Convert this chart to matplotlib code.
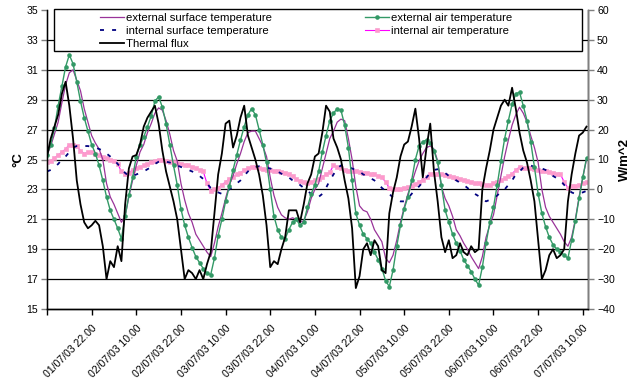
import numpy as np
import pandas as pd
import matplotlib
matplotlib.use("Agg")
import matplotlib.pyplot as plt
from matplotlib.patches import Rectangle

plt.rcParams["font.family"] = ["Liberation Sans", "DejaVu Sans"]

# Hourly readings starting 01/07/03 10:00
start_time = "2003-07-01 10:00"

ext_surface_temp = [
    25.3, 25.9, 26.7, 27.5, 28.8, 30.0, 30.8, 31.0, 30.3, 29.6, 28.4, 27.5,
    26.6, 26.1, 25.7, 25.0, 23.4, 22.5, 22.0, 21.4, 20.8, 21.2, 22.5, 23.6,
    24.6, 25.5, 26.0, 26.8, 27.4, 28.1, 28.45, 28.3, 27.6, 26.7, 25.6, 24.9,
    23.4, 22.3, 21.4, 20.8, 20.0, 19.6, 19.2, 18.8, 18.5, 19.4, 20.5, 21.4,
    22.4, 23.3, 23.9, 24.7, 25.4, 26.2, 26.8, 26.9, 26.9, 26.4, 25.9, 25.2,
    23.8, 22.6, 21.8, 21.3, 21.1, 21.0, 21.1, 21.0, 20.8, 20.9, 21.5, 22.4,
    23.0, 23.4, 24.4, 25.4, 26.4, 26.9, 27.5, 27.7, 27.6, 26.4, 25.0, 23.2,
    21.9, 21.6, 21.5, 21.0, 20.3, 19.9, 19.5, 18.4, 18.1, 18.6, 19.6, 20.8,
    21.8, 22.7, 23.4, 24.2, 24.9, 25.4, 25.8, 25.9, 25.7, 24.9, 23.2, 22.4,
    21.9, 21.2, 20.3, 19.9, 19.4, 19.0, 18.5, 18.1, 17.7, 18.5, 19.8, 20.6,
    21.3, 22.6, 23.9, 25.2, 26.3, 27.3, 28.0, 28.5, 28.1, 27.5, 26.6, 25.8,
    24.8, 23.0, 21.8, 21.2, 20.8, 20.4, 20.0, 19.5, 19.2, 19.8, 21.0, 22.5,
    23.8, 25.0,
]

int_surface_temp = [
    24.2, 24.3, 24.5, 24.7, 25.0, 25.2, 25.5, 25.8, 25.9, 25.9, 25.9, 25.9,
    25.85, 25.8, 25.7, 25.6, 25.4, 25.2, 25.0, 24.7, 24.4, 24.1, 23.9, 23.9,
    24.0, 24.1, 24.2, 24.35, 24.5, 24.7, 24.85, 24.9, 24.85, 24.8, 24.7, 24.6,
    24.5, 24.4, 24.3, 24.2, 24.1, 23.9, 23.7, 23.4, 23.1, 22.9, 22.8, 22.7,
    22.8, 23.0, 23.2, 23.4, 23.6, 23.9, 24.2, 24.4, 24.5, 24.55, 24.5, 24.45,
    24.4, 24.3, 24.2, 24.05, 23.9, 23.8, 23.6, 23.5, 23.3, 23.1, 22.9, 22.7,
    22.5, 22.5, 22.7, 23.1, 23.6, 24.0, 24.4, 24.6, 24.6, 24.5, 24.4, 24.3,
    24.2, 24.0, 23.9, 23.75, 23.6, 23.4, 23.1, 22.9, 22.7, 22.45, 22.3, 22.2,
    22.2, 22.4, 22.7, 23.0, 23.2, 23.5, 23.8, 24.1, 24.3, 24.35, 24.3, 24.1,
    23.9, 23.8, 23.6, 23.45, 23.3, 23.1, 22.9, 22.7, 22.55, 22.35, 22.2, 22.3,
    22.4, 22.6, 22.8, 23.0, 23.3, 23.6, 24.0, 24.2, 24.45, 24.55, 24.6, 24.5,
    24.45, 24.4, 24.3, 24.1, 23.9, 23.75, 23.6, 23.3, 23.0, 22.8, 22.7, 22.75,
    22.8, 22.9,
]

thermal_flux = [
    11, 17, 21, 25, 32, 36, 28, 17, 3, -5, -11, -13,
    -12, -10.5, -12, -19, -30, -24, -26, -19, -24, -5, 7, 11,
    11.5, 15, 21, 24, 26, 28, 22, 13, 6, 1, -4, -10,
    -20, -30, -27, -28, -30, -27, -30, -25, -21, -8, 5, 12,
    22, 23, 14, 18, 24, 28, 18, 14, 10, 5, -2, -12,
    -26, -24, -25, -20, -16, -7, -7, -7, -11, -5, 2, 5,
    11, 12, 19, 28, 26, 17, 14, 10, 3, -3, -13, -33,
    -29, -20, -18, -22, -17, -19, -27, -28, -8, -1, 4, 11,
    15, 16, 21, 27, 17, 4, 14, 22, 6, -4, -16, -21,
    -17, -23, -22, -18, -21, -22, -19, -21, -20, 0, 7, 13,
    20, 24, 28, 30, 28, 34, 27, 19, 13, 9, 3, -4,
    -17, -30, -27, -22, -20, -23, -22, -20, -4, 5, 12, 18,
    19, 21,
]

ext_air_temp = [
    25.3, 26.0, 27.1, 28.6, 29.9, 31.2, 32.0, 31.4, 30.2, 28.9, 27.8, 26.9,
    26.0, 25.4, 24.6, 23.6, 22.5, 21.6, 21.0, 20.4, 19.7, 21.2, 22.6, 23.8,
    25.2, 26.0, 26.5, 27.2, 27.9, 28.9, 29.2, 28.5, 27.4, 26.0, 24.6, 23.3,
    21.7, 20.6, 19.8, 19.1, 18.5, 18.1, 17.7, 17.4, 17.3, 18.4, 19.9, 21.0,
    22.2, 23.2, 24.3, 25.3, 26.3, 27.2, 28.0, 28.4, 28.0, 27.0, 26.0, 24.8,
    23.0, 21.2, 20.3, 19.8, 19.7, 20.3, 20.8, 21.0, 20.6, 20.8, 21.8, 22.7,
    23.3, 24.2, 25.5, 26.6, 27.6, 28.1, 28.4, 28.3, 27.3, 25.8, 23.6, 21.4,
    20.6, 20.0, 19.7, 19.4, 18.8, 18.3, 17.7, 16.9, 16.5, 17.6, 19.2, 20.6,
    21.7, 22.5, 23.6, 25.0, 25.9, 26.2, 26.3, 26.1, 25.6, 24.8, 23.3, 21.6,
    20.8, 20.0, 19.4, 18.9, 18.3, 17.9, 17.5, 17.0, 16.6, 17.8, 19.4, 20.8,
    21.8, 23.3, 24.9, 26.4, 27.6, 28.7, 29.4, 29.5, 28.6, 27.6, 26.2, 24.5,
    22.7, 21.4, 20.5, 19.8, 19.3, 19.0, 18.8, 18.6, 18.4, 19.6, 20.9, 22.4,
    23.8, 25.1,
]

int_air_temp = [
    24.8, 24.9, 25.1, 25.3, 25.5, 25.7, 26.0, 26.0, 25.9, 25.6, 25.4, 25.5,
    25.5, 25.4, 25.3, 25.2, 25.1, 25.0, 24.9, 24.7, 24.2, 24.0, 24.1, 24.3,
    24.4, 24.5, 24.6, 24.7, 24.8, 24.9, 25.0, 25.0, 24.9, 24.8, 24.8, 24.75,
    24.7, 24.65, 24.6, 24.5, 24.45, 24.3, 24.2, 23.4, 22.9, 23.0, 23.1, 23.3,
    23.5, 23.7, 23.8, 24.0, 24.1, 24.3, 24.4, 24.5, 24.5, 24.4, 24.35, 24.3,
    24.3, 24.2, 24.2, 24.15, 24.1, 24.0, 23.9, 23.7, 23.55, 23.5, 23.45, 23.5,
    23.6, 23.7, 23.85, 24.0, 24.15, 24.6, 24.5, 24.4, 24.3, 24.25, 24.2, 24.2,
    24.15, 24.1, 24.1, 24.0, 24.0, 23.9, 23.8, 23.5, 23.1, 23.0, 23.0, 23.05,
    23.1, 23.15, 23.2, 23.35, 23.5, 23.65, 23.8, 24.0, 24.05, 24.0, 24.0, 23.95,
    23.9, 23.85, 23.75, 23.7, 23.6, 23.55, 23.5, 23.45, 23.4, 23.35, 23.3, 23.3,
    23.4, 23.5, 23.6, 23.75, 23.9, 24.05, 24.3, 24.5, 24.45, 24.4, 24.4, 24.35,
    24.3, 24.25, 24.2, 24.15, 24.1, 24.05, 24.0, 23.5, 23.1, 23.2, 23.25, 23.3,
    23.4, 23.5,
]

series_labels = [
    "external surface temperature",
    "internal surface temperature",
    "Thermal flux",
    "external air temperature",
    "internal air temperature",
]

temp_ticks = list(range(15, 36, 2))
flux_ticks = list(range(-40, 61, 10))

hours = np.arange(len(ext_air_temp))
times = pd.date_range(start_time, periods=len(hours), freq="h")
tick_hours = np.arange(0, len(hours), 12)
tick_labels = ["" if h == 0 else times[h].strftime("%d/%m/%y %H.%M") for h in tick_hours]

W, H = 639, 387
fig = plt.figure(figsize=(W / 100, H / 100), dpi=100)
fig.patch.set_facecolor("white")
ax = fig.add_axes([47 / W, 1 - 309 / H, 541 / W, 299 / H])
ax2 = ax.twinx()

# horizontal grid at the inner temperature ticks
ax.hlines(temp_ticks[1:-1], 0, 1, transform=ax.get_yaxis_transform(),
          colors="black", linewidth=0.9, zorder=0.5)

l_es, = ax.plot(hours, ext_surface_temp, color="#993399", lw=0.9, zorder=3,
                label=series_labels[0])
l_is, = ax.plot(hours, int_surface_temp, color="#000080", lw=1.3,
                linestyle=(0, (2.2, 4.5)), zorder=3, label=series_labels[1])
l_ea, = ax.plot(hours, ext_air_temp, color="#339966", lw=1.0, marker="o",
                markersize=3.3, markeredgewidth=0, zorder=4, label=series_labels[3])
l_ia, = ax.plot(hours, int_air_temp, color="#FF00FF", lw=0.8, marker="s",
                markersize=3.5, markerfacecolor="#FF99CC", markeredgecolor="#F7A3CF",
                markeredgewidth=0.5, zorder=2, label=series_labels[4])
l_tf, = ax2.plot(hours, thermal_flux, color="black", lw=1.3, zorder=3,
                 label=series_labels[2])

ax.set_xlim(0, 145.4)
ax.set_ylim(15, 35)
ax2.set_ylim(-40, 60)
ax.set_yticks(temp_ticks)
ax2.set_yticks(flux_ticks)
ax.set_xticks(tick_hours)
ax.set_xticklabels(tick_labels, rotation=45, ha="right", va="top",
                   rotation_mode="anchor", fontsize=7.6)

for a in (ax, ax2):
    a.spines["top"].set_visible(False)
    a.patch.set_visible(False)
ax.spines["left"].set_color("#7f7f7f")
ax2.spines["right"].set_color("#7f7f7f")
ax.spines["bottom"].set_color("black")
for s in ("left", "right", "bottom"):
    ax.spines[s].set_linewidth(1.0)
    ax2.spines[s].set_linewidth(1.0)

ax.tick_params(axis="y", direction="out", length=4.5, width=1, color="#7f7f7f",
               labelsize=7.6, pad=2)
ax2.tick_params(axis="y", direction="out", length=4.5, width=1, color="#7f7f7f",
                labelsize=7.6, pad=2)
ax.tick_params(axis="x", direction="out", length=4.5, width=1, color="black",
               pad=6)

ax.set_ylabel("°C", fontsize=9.5, fontweight="bold", labelpad=1)
ax2.set_ylabel("W/m^2", fontsize=9.5, fontweight="bold", labelpad=3)

# legend box across the top of the plot area
fig.add_artist(Rectangle((54 / W, 1 - 51 / H), 528 / W, 41.5 / H,
                         transform=fig.transFigure, facecolor="white",
                         edgecolor="black", linewidth=1.0, zorder=4))

leg_kw = dict(frameon=False, fontsize=8.2, borderpad=0, borderaxespad=0,
              handlelength=2.1, handletextpad=0.15, labelspacing=0.26,
              numpoints=1, loc="center left")
leg1 = fig.legend(handles=[l_es, l_is, l_tf], labels=series_labels[:3],
                  bbox_to_anchor=(100 / W, 1 - 31 / H), **leg_kw)
leg2 = fig.legend(handles=[l_ea, l_ia], labels=series_labels[3:],
                  bbox_to_anchor=(365 / W, 1 - 24.3 / H), **leg_kw)
leg1.set_zorder(5)
leg2.set_zorder(5)

fig.savefig("out.png", dpi=100, facecolor="white")
